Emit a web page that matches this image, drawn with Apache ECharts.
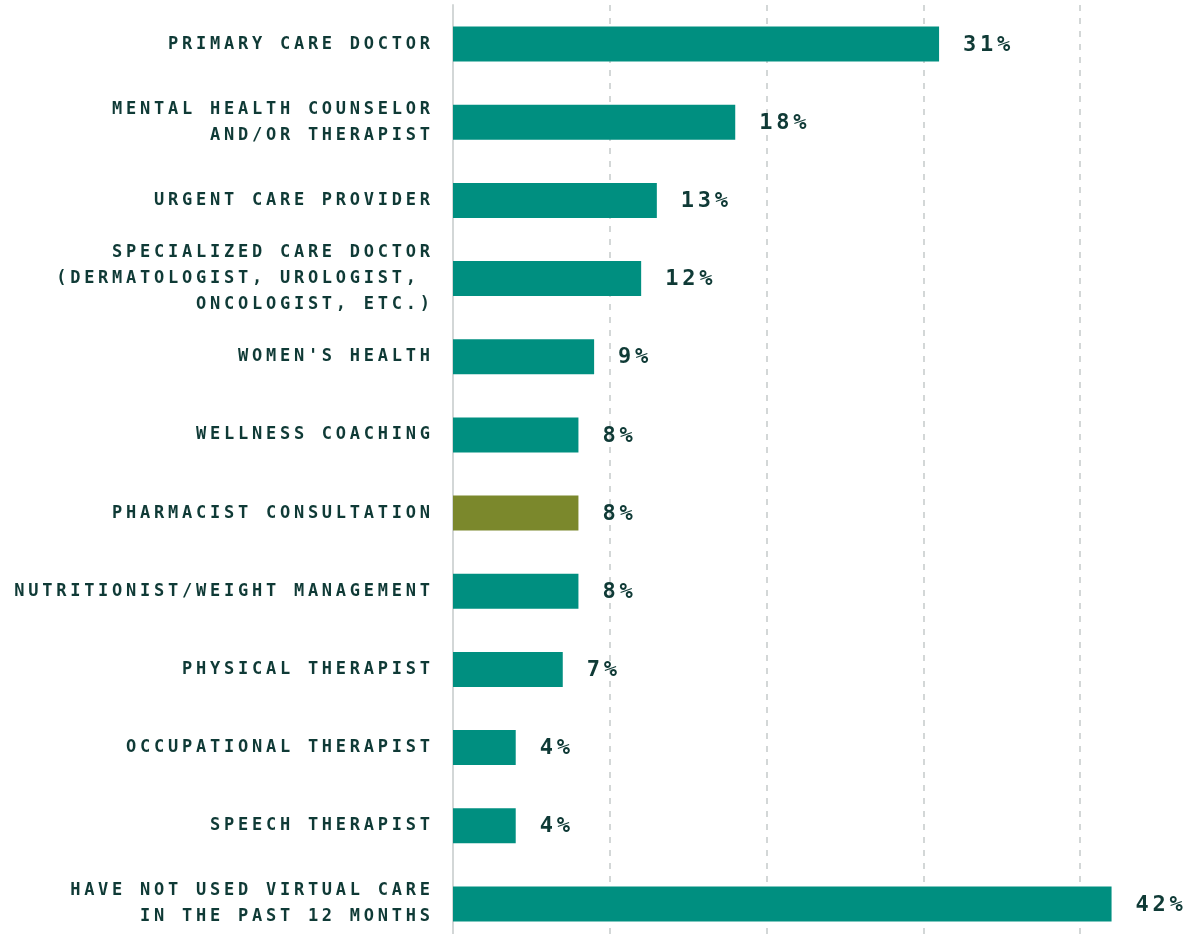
<!DOCTYPE html>
<html>
<head>
<meta charset="utf-8">
<style>
  html, body { margin: 0; padding: 0; background: #ffffff; overflow: hidden; }
  #chart { width: 1188px; height: 944px; }
</style>
<script src="https://cdn.jsdelivr.net/npm/echarts@6/dist/echarts.min.js"></script>
</head>
<body>
<div id="chart"></div>
<script>
// Virtual care usage by provider type (share of respondents, %)
const categories = [
  'PRIMARY CARE DOCTOR',
  'MENTAL HEALTH COUNSELOR\nAND/OR THERAPIST',
  'URGENT CARE PROVIDER',
  'SPECIALIZED CARE DOCTOR\n(DERMATOLOGIST, UROLOGIST, \nONCOLOGIST, ETC.)',
  "WOMEN'S HEALTH",
  'WELLNESS COACHING',
  'PHARMACIST CONSULTATION',
  'NUTRITIONIST/WEIGHT MANAGEMENT',
  'PHYSICAL THERAPIST',
  'OCCUPATIONAL THERAPIST',
  'SPEECH THERAPIST',
  'HAVE NOT USED VIRTUAL CARE\nIN THE PAST 12 MONTHS'
];
const values = [31, 18, 13, 12, 9, 8, 8, 8, 7, 4, 4, 42];
const highlighted = ['PHARMACIST CONSULTATION'];

// Tracked (letter-spaced) lettering for all canvas text
const TRACKING = '3.75px';
['fillText', 'strokeText', 'measureText'].forEach(function (fn) {
  const orig = CanvasRenderingContext2D.prototype[fn];
  CanvasRenderingContext2D.prototype[fn] = function () {
    try { this.letterSpacing = TRACKING; } catch (e) {}
    return orig.apply(this, arguments);
  };
});

const TEAL = '#008f80';
const OLIVE = '#7b882c';
const INK = '#0f3a36';

const chart = echarts.init(document.getElementById('chart'), null, { renderer: 'canvas' });

chart.setOption({
  animation: false,
  backgroundColor: '#ffffff',
  grid: { left: 453, right: 29.4, top: 5, height: 938, containLabel: false },
  xAxis: {
    type: 'value',
    min: 0,
    max: 45,
    interval: 10,
    axisLine: { show: false },
    axisTick: { show: false },
    axisLabel: { show: false },
    splitLine: {
      show: true,
      showMinLine: false,
      showMaxLine: false,
      lineStyle: { color: '#d3d7d7', width: 2, type: [6, 7] }
    }
  },
  yAxis: {
    type: 'category',
    inverse: true,
    data: categories,
    axisLine: { show: true, lineStyle: { color: '#d3d7d7', width: 2 } },
    axisTick: { show: false },
    axisLabel: {
      margin: 19.25,
      color: INK,
      fontFamily: '"DejaVu Sans Mono", monospace',
      fontSize: 17,
      fontWeight: 'bold',
      lineHeight: 26,
      align: 'right'
    }
  },
  series: [{
    type: 'bar',
    barWidth: 35,
    data: values.map(function (v, i) {
      return {
        value: v,
        itemStyle: { color: highlighted.indexOf(categories[i]) >= 0 ? OLIVE : TEAL }
      };
    }),
    label: {
      show: true,
      position: 'right',
      distance: 24,
      color: INK,
      fontFamily: '"DejaVu Sans Mono", monospace',
      fontSize: 22,
      fontWeight: 'bold',
      offset: [0, 1],
      formatter: function (p) { return p.value + '%'; }
    }
  }]
});
</script>
</body>
</html>
